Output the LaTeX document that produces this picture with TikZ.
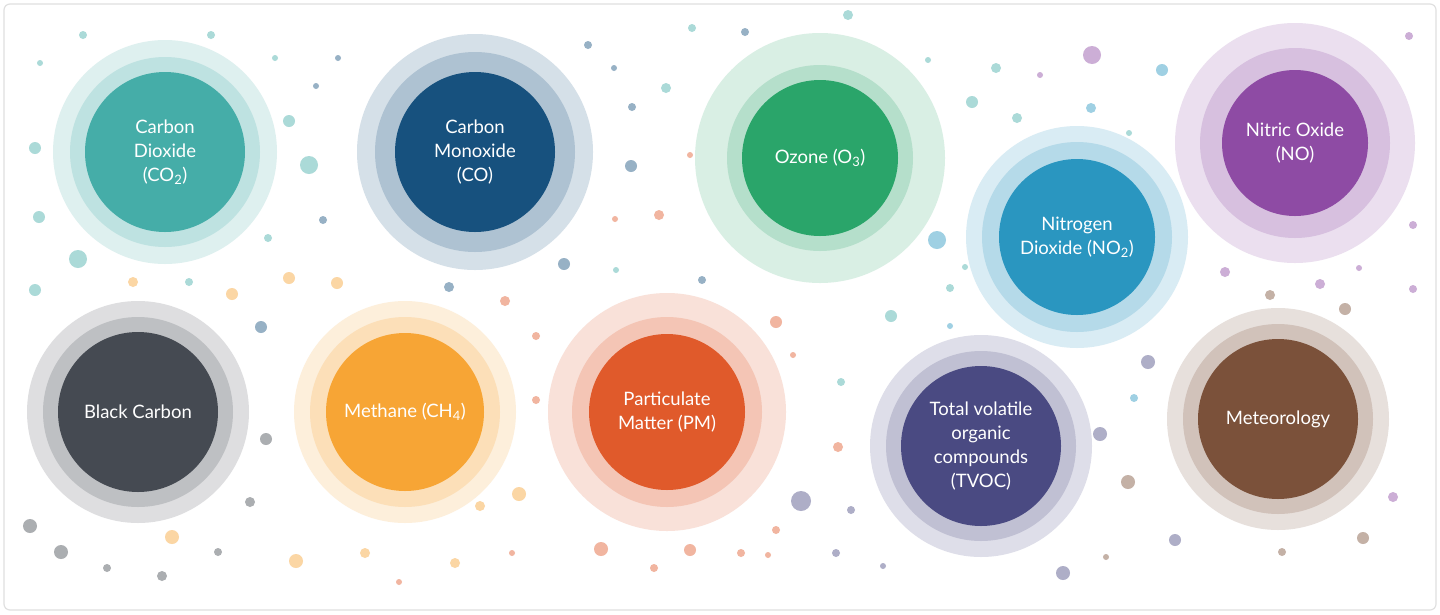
\documentclass[tikz,border=0pt]{standalone}
\usepackage{fontspec}
\setmainfont{Lato}
\begin{document}
\begin{tikzpicture}[x=1pt,y=-1pt]
\useasboundingbox (0,0) rectangle (1440,614);
\fill[white] (0,0) rectangle (1440,614);
\draw[black!12,line width=1.2pt,rounded corners=6pt] (4,4) rectangle (1436,610);
\tikzset{lbl/.style={text=white,align=center,font=\fontsize{18.5}{24}\selectfont}}
\definecolor{cA}{HTML}{45ADA8}\definecolor{cB}{HTML}{17517E}\definecolor{cC}{HTML}{2AA56A}
\definecolor{cD}{HTML}{2A96C0}\definecolor{cE}{HTML}{8E4BA4}\definecolor{cF}{HTML}{454A52}
\definecolor{cG}{HTML}{F7A535}\definecolor{cH}{HTML}{E05A2B}\definecolor{cI}{HTML}{4A4A82}
\definecolor{cJ}{HTML}{7B513A}
% dots
\foreach \x/\y/\r/\c in {83/35/4/cA,211/35/4/cA,40/63/3/cA,275/58/3/cA,35/148/6/cA,39/217/6/cA,309/165/9/cA,78/259/9/cA,268/238/4/cA,35/290/6/cA,289/121/6/cA,323/220/4/cB,316/86/3/cB,338/58/3/cB,
133/282/5/cG,189/282/4/cA,232/294/6/cG,289/278/6/cG,337/283/6/cG,261/327/6/cB,266/439/6/cF,250/502/5/cF,30/526/7/cF,61/552/7/cF,107/568/4/cF,162/576/5/cF,218/552/4/cF,172/537/7/cG,296/561/7/cG,365/553/5/cG,399/582/3/cH,455/563/5/cG,480/506/5/cG,519/494/7/cG,512/553/3/cH,536/336/4/cH,536/400/4/cH,505/301/5/cH,449/287/5/cB,564/264/6/cB,616/270/3/cA,615/219/3/cH,659/215/5/cH,631/166/6/cB,632/107/4/cB,614/68/3/cB,588/45/4/cB,692/28/4/cA,745/32/4/cB,848/15/5/cA,666/88/5/cA,690/155/3/cH,702/280/4/cB,776/322/6/cH,793/355/3/cH,841/382/4/cA,838/447/5/cH,851/510/4/cI,776/530/4/cH,768/555/3/cH,801/501/10/cI,741/553/4/cH,690/550/6/cH,654/568/4/cH,601/549/7/cH,
937/240/9/cD,928/60/3/cA,972/102/6/cA,996/68/5/cA,1017/118/5/cA,1040/75/3/cE,1092/55/9/cE,1091/108/5/cD,1129/133/3/cA,1162/70/6/cD,1409/36/4/cE,1413/225/4/cE,1225/272/5/cE,1270/295/5/cJ,1320/284/5/cE,1345/309/6/cJ,1359/268/3/cE,1413/289/4/cE,1148/362/7/cI,1134/398/4/cD,1100/434/7/cI,1128/482/7/cJ,1106/557/3/cJ,1063/573/7/cI,1175/540/6/cI,1282/552/4/cJ,1363/538/6/cJ,1393/497/5/cE,891/316/6/cA,950/288/4/cA,965/267/3/cA,950/326/3/cD,883/566/3/cI,836/553/4/cI}
  \fill[\c!45] (\x,\y) circle (\r);
% circles
\foreach \n/\x/\y/\ro/\rm/\ri/\c/\t in {
 a/165/152/112/95/80/cA/{Carbon\\Dioxide\\(CO\textsubscript{2})},
 b/475/152/118/100/80/cB/{Carbon\\Monoxide\\(CO)},
 c/820/158/125/93/78/cC/{Ozone (O\textsubscript{3})},
 d/1077/237/111/95/78/cD/{Nitrogen\\Dioxide (NO\textsubscript{2})},
 e/1295/143/120/95/73/cE/{Nitric Oxide\\(NO)},
 f/138/412/111/95/80/cF/{Black Carbon},
 g/405/412/111/95/79/cG/{Methane (CH\textsubscript{4})},
 h/667/412/119/95/78/cH/{Particulate\\Matter (PM)},
 i/981/446/111/95/80/cI/{Total volatile\\organic\\compounds\\(TVOC)},
 j/1278/419/111/95/80/cJ/{Meteorology}}{
 \fill[\c!18] (\x,\y) circle (\ro);
 \fill[\c!35] (\x,\y) circle (\rm);
 \fill[\c] (\x,\y) circle (\ri);
 \node[lbl] (\n) at (\x,\y) {\t};
}
\end{tikzpicture}
\end{document}
